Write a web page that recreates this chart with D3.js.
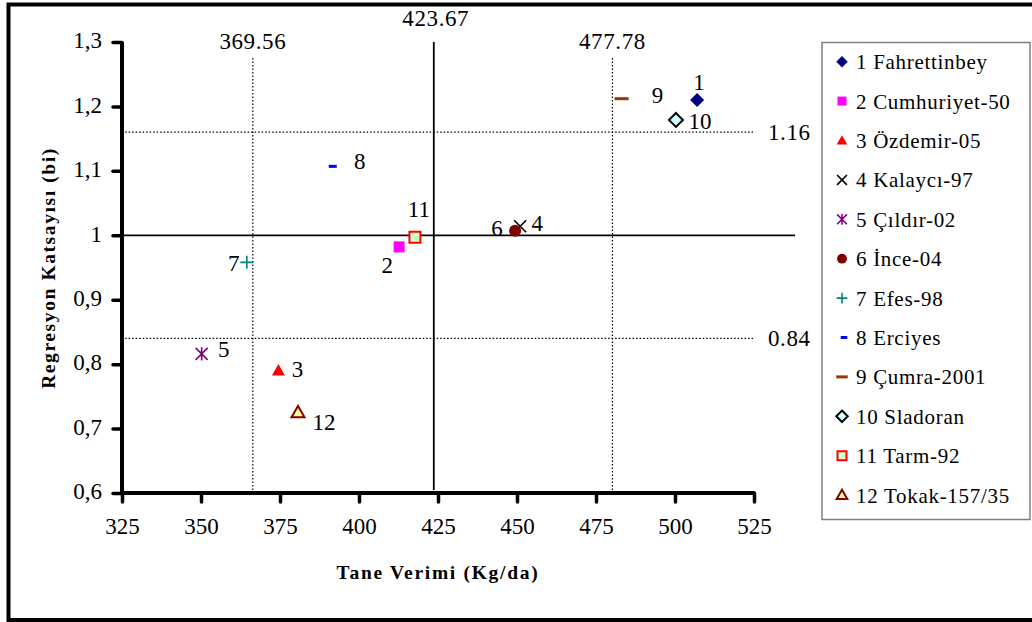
<!DOCTYPE html>
<html>
<head>
<meta charset="utf-8">
<script src="https://cdn.jsdelivr.net/npm/d3@7"></script>
<style>
  body { margin: 0; background: #fff; }
  svg text { font-family: "Liberation Serif", "Times New Roman", Times, serif; fill: #000; }
</style>
</head>
<body>
<div id="chart"></div>
<script>
// chart values
const pointIds = ["1", "2", "3", "4", "5", "6", "7", "8", "9", "10", "11", "12"];
const genotypes = ["1 Fahrettinbey", "2 Cumhuriyet-50", "3 Özdemir-05", "4 Kalaycı-97",
    "5 Çıldır-02", "6 İnce-04", "7 Efes-98", "8 Erciyes", "9 Çumra-2001",
    "10 Sladoran", "11 Tarm-92", "12 Tokak-157/35"];
const yieldVals = [507.0, 412.7, 374.5, 451.0, 350.2, 449.4, 364.5, 391.7, 483.1, 500.3, 417.7, 380.7];
const biVals = [1.210, 0.982, 0.790, 1.014, 0.816, 1.007, 0.958, 1.107, 1.212, 1.179, 0.997, 0.725];

const xTicks = [325, 350, 375, 400, 425, 450, 475, 500, 525];
const yTicks = [0.6, 0.7, 0.8, 0.9, 1.0, 1.1, 1.2, 1.3];

// reference lines (mean and dotted bands)
const meanYield = 423.67;
const meanYieldLabel = "423.67";
const meanBi = 1.0;
const bandYield = [366.4, 480.2];
const bandYieldLabels = ["369.56", "477.78"];
const bandBi = [1.16, 0.84];
const bandBiLabels = ["1.16", "0.84"];

// marker styles
const markerTypes = ["diamond", "square", "triangle", "cross", "star", "circle",
    "plus", "dash", "longdash", "diamond", "square", "triangle"];
const markerFill = ["#000080", "#FF00FF", "#FF0000", "none", "none", "#800000",
    "none", "#0000FF", "#993300", "#CCFFFF", "#CCFFCC", "#FFFF99"];
const markerStroke = ["none", "none", "none", "#000", "#800080", "none",
    "#008080", "none", "none", "#000", "#FF0000", "#800000"];
// label offsets from the point (px)
const labelDx = [2, -12, 19, 17, 22, -18, -13, 27, 36, 24, 4, 26];
const labelDy = [-18, 18, -2, -3, -5, -3, 1, -5, -4, 1, -28, 10];

const width = 1032, height = 622;
const svg = d3.select("#chart").append("svg")
    .attr("width", width)
    .attr("height", height);

// outer frame
svg.append("rect")
    .attr("x", 8.5).attr("y", 4.5)
    .attr("width", 1040).attr("height", 615.5)
    .attr("fill", "none").attr("stroke", "#000").attr("stroke-width", 4);

const xScale = d3.scaleLinear().domain([325, 525]).range([122, 754]);
const yScale = d3.scaleLinear().domain([0.6, 1.3]).range([493, 42]);

// marker path, k = scale
function markerPath(type, k) {
    const p = d3.path();
    let s;
    switch (type) {
        case "diamond":
            s = 7 * k;
            p.moveTo(0, -s); p.lineTo(s, 0); p.lineTo(0, s); p.lineTo(-s, 0); p.closePath();
            break;
        case "square":
            s = 5.5 * k;
            p.rect(-s, -s, 2 * s, 2 * s);
            break;
        case "triangle":
            s = 6.5 * k;
            p.moveTo(0, -s); p.lineTo(s, s * 0.75); p.lineTo(-s, s * 0.75); p.closePath();
            break;
        case "cross":
            s = 6 * k;
            p.moveTo(-s, -s); p.lineTo(s, s); p.moveTo(-s, s); p.lineTo(s, -s);
            break;
        case "star":
            s = 6 * k;
            p.moveTo(-s, -s); p.lineTo(s, s); p.moveTo(-s, s); p.lineTo(s, -s);
            p.moveTo(0, -s * 1.1); p.lineTo(0, s * 1.1);
            break;
        case "circle":
            s = 6 * k;
            p.arc(0, 0, s, 0, 2 * Math.PI);
            break;
        case "plus":
            s = 6.5 * k;
            p.moveTo(-s, 0); p.lineTo(s, 0); p.moveTo(0, -s); p.lineTo(0, s);
            break;
        case "dash":
            s = 4 * k;
            p.rect(-s, -1.5, 2 * s, 3);
            break;
        case "longdash":
            s = 7 * k;
            p.rect(-s, -1.5, 2 * s, 3);
            break;
    }
    return p.toString();
}

function strokeW(i) {
    return markerStroke[i] === "none" ? 0 : (markerFill[i] === "none" ? 1.6 : 2);
}

// dotted band lines
svg.selectAll(".bandx").data(bandYield).enter().append("line")
    .attr("x1", d => xScale(d)).attr("x2", d => xScale(d))
    .attr("y1", 58).attr("y2", yScale(0.6))
    .attr("stroke", "#000").attr("stroke-width", 1.2)
    .attr("stroke-dasharray", "1.5,2");
svg.selectAll(".bandy").data(bandBi).enter().append("line")
    .attr("x1", xScale(326)).attr("x2", 753)
    .attr("y1", d => yScale(d)).attr("y2", d => yScale(d))
    .attr("stroke", "#000").attr("stroke-width", 1.2)
    .attr("stroke-dasharray", "1.5,2");

// mean lines
svg.append("line")
    .attr("x1", xScale(meanYield)).attr("x2", xScale(meanYield))
    .attr("y1", yScale(1.3)).attr("y2", 490)
    .attr("stroke", "#000").attr("stroke-width", 1.8);
svg.append("line")
    .attr("x1", xScale(325)).attr("x2", 795)
    .attr("y1", yScale(meanBi)).attr("y2", yScale(meanBi))
    .attr("stroke", "#000").attr("stroke-width", 1.8);

// reference labels
svg.append("text")
    .attr("x", xScale(meanYield) + 2).attr("y", 26)
    .attr("text-anchor", "middle")
    .style("font-size", "23px").style("letter-spacing", "0.6px")
    .text(meanYieldLabel);
svg.selectAll(".bandxlab").data(bandYield).enter().append("text")
    .attr("x", d => xScale(d)).attr("y", 49)
    .attr("text-anchor", "middle")
    .style("font-size", "23px").style("letter-spacing", "0.6px")
    .text((d, i) => bandYieldLabels[i]);
svg.selectAll(".bandylab").data(bandBi).enter().append("text")
    .attr("x", 768).attr("y", d => yScale(d) + 8)
    .style("font-size", "23px").style("letter-spacing", "0.6px")
    .text((d, i) => bandBiLabels[i]);

// axes
const xAxis = d3.axisBottom(xScale).tickValues(xTicks).tickSize(9).tickPadding(16)
    .tickFormat(d3.format("d"));
const yAxis = d3.axisLeft(yScale).tickValues(yTicks).tickSize(9).tickPadding(11)
    .tickFormat(d => d3.format(".1~f")(d).replace(".", ","));

const gx = svg.append("g").attr("transform", `translate(0,${yScale(0.6)})`).call(xAxis);
const gy = svg.append("g").attr("transform", `translate(${xScale(325)},0)`).call(yAxis);
[gx, gy].forEach(g => {
    g.select(".domain").attr("stroke", "#000").attr("stroke-width", 4)
        .attr("d", g === gx ? `M${xScale(325)},0H${xScale(525)}` : `M0,${yScale(1.3)}V${yScale(0.6)}`);
    g.selectAll(".tick line").attr("stroke", "#000").attr("stroke-width", 3.5)
        .attr("stroke-linecap", "round");
    g.selectAll(".tick text")
        .style("font-family", '"Liberation Serif", "Times New Roman", Times, serif')
        .style("font-size", "23px").attr("fill", "#000");
});
gy.selectAll(".tick text").attr("dy", "0.25em");

// axis titles
svg.append("text")
    .attr("x", 438).attr("y", 579)
    .attr("text-anchor", "middle")
    .style("font-size", "19.5px").style("font-weight", "bold").style("letter-spacing", "1.7px")
    .text("Tane Verimi (Kg/da)");
svg.append("text")
    .attr("transform", "translate(55,268) rotate(-90)")
    .attr("text-anchor", "middle")
    .style("font-size", "19.5px").style("font-weight", "bold").style("letter-spacing", "1.6px")
    .text("Regresyon Katsayısı (bi)");

// points
const pts = svg.selectAll(".pt").data(yieldVals).enter().append("g")
    .attr("transform", (d, i) => `translate(${xScale(d)},${yScale(biVals[i])})`);
pts.append("path")
    .attr("d", (d, i) => markerPath(markerTypes[i], 1))
    .attr("fill", (d, i) => markerFill[i])
    .attr("stroke", (d, i) => markerStroke[i])
    .attr("stroke-width", (d, i) => strokeW(i));
pts.append("text")
    .attr("x", (d, i) => labelDx[i]).attr("y", (d, i) => labelDy[i] + 8)
    .attr("text-anchor", "middle")
    .style("font-size", "23px")
    .text((d, i) => pointIds[i]);

// legend
const legend = svg.append("g");
legend.append("rect")
    .attr("x", 822).attr("y", 42.5).attr("width", 208).attr("height", 477)
    .attr("fill", "#fff").attr("stroke", "#808080").attr("stroke-width", 1.5);
const items = legend.selectAll(".item").data(genotypes).enter().append("g")
    .attr("transform", (d, i) => `translate(842,${61.7 + i * 39.4})`);
items.append("path")
    .attr("transform", (d, i) => markerTypes[i] === "dash" ? "translate(2,0)" : null)
    .attr("d", (d, i) => markerPath(markerTypes[i], 0.82))
    .attr("fill", (d, i) => markerFill[i])
    .attr("stroke", (d, i) => markerStroke[i])
    .attr("stroke-width", (d, i) => strokeW(i));
items.append("text")
    .attr("x", 14).attr("y", 7.5)
    .style("font-size", "21px").style("letter-spacing", "0.7px")
    .text(d => d);
</script>
</body>
</html>
